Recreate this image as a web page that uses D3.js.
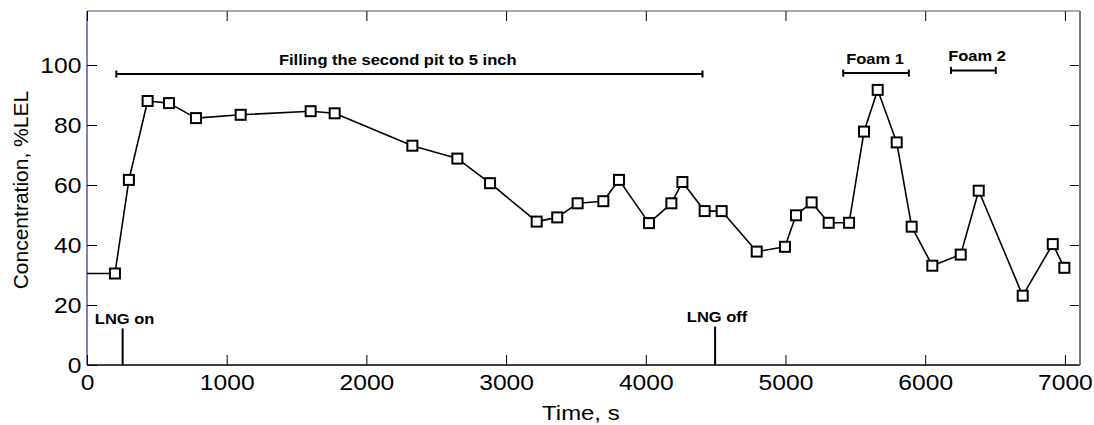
<!DOCTYPE html>
<html>
<head>
<meta charset="utf-8">
<script src="https://cdnjs.cloudflare.com/ajax/libs/d3/7.8.5/d3.min.js"></script>
<style>
  body { margin: 0; background: #fff; }
  text { font-family: "Liberation Sans", Arial, sans-serif; fill: #000; }
</style>
</head>
<body>
<svg id="chart"></svg>
<script>
// measured concentration vs time (first point has no marker)
const times = [0, 200, 300, 434, 587, 780, 1100, 1601, 1773, 2329, 2651, 2885, 3219, 3366,
  3512, 3696, 3808, 4023, 4183, 4262, 4421, 4543, 4794, 4996, 5075, 5187, 5309, 5455,
  5562, 5660, 5796, 5903, 6051, 6254, 6383, 6698, 6913, 6996];
const values = [30.5, 30.5, 61.7, 88, 87.3, 82.3, 83.4, 84.6, 83.9, 73.1, 68.8, 60.6, 47.8, 49.2,
  53.9, 54.6, 61.7, 47.3, 53.9, 61, 51.3, 51.3, 37.8, 39.4, 49.9, 54.2, 47.4, 47.4,
  77.8, 91.7, 74.2, 46.1, 33.1, 36.8, 58.1, 23.1, 40.3, 32.4];

// period bars
const spanLabels = ["Filling the second pit to 5 inch", "Foam 1", "Foam 2"];
const spanStart = [210, 5413, 6185];
const spanEnd = [4406, 5883, 6505];
const spanLevel = [97, 97.3, 98.2];
const spanLabelAt = [2224, 5641, 6371];

// event markers
const eventLabels = ["LNG on", "LNG off"];
const eventTimes = [255, 4496];
const eventHeight = [12.2, 12.8];

const xTicks = [0, 1000, 2000, 3000, 4000, 5000, 6000, 7000];
const yTicks = [0, 20, 40, 60, 80, 100];

const svgWidth = 1094, svgHeight = 425;
const margin = {top: 11, right: 14, bottom: 60, left: 87};
const width = svgWidth - margin.left - margin.right;
const height = svgHeight - margin.top - margin.bottom;
const stretch = 1.14; // the source picture is a bit wider than tall

const svg = d3.select("#chart")
  .attr("width", svgWidth)
  .attr("height", svgHeight);

const g = svg.append("g")
  .attr("transform", "translate(" + margin.left + "," + margin.top + ")");

const x = d3.scaleLinear().domain([0, 7108]).range([0, width]);
const y = d3.scaleLinear().domain([0, 118]).range([height, 0]);

// axes with inward ticks
const tickLen = 10;
const styleAxis = (sel) => {
  sel.selectAll("text")
    .style("font-size", "22px")
    .style("font-family", '"Liberation Sans", Arial, sans-serif')
    .attr("transform", "scale(1.12,1)");
  sel.select(".domain").remove();
  sel.selectAll("line").attr("stroke", "#000");
};

g.append("g")
  .attr("transform", "translate(0," + height + ")")
  .call(d3.axisBottom(x).tickValues(xTicks).tickFormat(d3.format("d"))
    .tickSizeInner(-tickLen).tickSizeOuter(0).tickPadding(9))
  .call(styleAxis);

g.append("g")
  .call(d3.axisLeft(y).tickValues(yTicks).tickFormat(d3.format("d"))
    .tickSizeInner(-tickLen).tickSizeOuter(0).tickPadding(5))
  .call(styleAxis)
  .selectAll("text").attr("dy", "0.36em");

g.append("g")
  .call(d3.axisTop(x).tickValues(xTicks).tickSizeInner(-tickLen).tickSizeOuter(0).tickFormat(""))
  .call(styleAxis);

g.append("g")
  .attr("transform", "translate(" + width + ",0)")
  .call(d3.axisRight(y).tickValues(yTicks.slice(1)).tickSizeInner(-tickLen).tickSizeOuter(0).tickFormat(""))
  .call(styleAxis);

// frame
g.append("line").attr("x1", 0).attr("x2", width).attr("y1", 0).attr("y2", 0)
  .attr("stroke", "#555").attr("stroke-width", 1.2);
g.append("line").attr("x1", 0).attr("x2", width).attr("y1", height).attr("y2", height)
  .attr("stroke", "#000").attr("stroke-width", 1.5);
g.append("line").attr("x1", 0).attr("x2", 0).attr("y1", 0).attr("y2", height)
  .attr("stroke", "#000080").attr("stroke-width", 1);
g.append("line").attr("x1", width).attr("x2", width).attr("y1", 0).attr("y2", height)
  .attr("stroke", "#777").attr("stroke-width", 2);

// axis titles
svg.append("text")
  .attr("transform", "translate(" + (margin.left + x(3535)) + ",420) scale(" + stretch + ",1)")
  .attr("text-anchor", "middle")
  .style("font-size", "21px")
  .text("Time, s");

svg.append("text")
  .attr("transform", "translate(28," + (margin.top + y(58.3)) + ") rotate(-90)")
  .attr("text-anchor", "middle")
  .style("font-size", "21px")
  .text("Concentration, %LEL");

// data line
const pts = times.map((t, i) => ({t: t, v: values[i]}));
const line = d3.line()
  .x(d => x(d.t))
  .y(d => y(d.v));

g.append("path")
  .datum(pts)
  .attr("fill", "none")
  .attr("stroke", "#000")
  .attr("stroke-width", 1.6)
  .attr("stroke-linejoin", "round")
  .attr("d", line);

const sq = 10;
g.selectAll(".dot")
  .data(pts.slice(1))
  .enter().append("rect")
  .attr("class", "dot")
  .attr("x", d => x(d.t) - sq / 2)
  .attr("y", d => y(d.v) - sq / 2)
  .attr("width", sq)
  .attr("height", sq)
  .attr("fill", "#fff")
  .attr("stroke", "#000")
  .attr("stroke-width", 2);

// period bars with caps
spanLabels.forEach((lab, i) => {
  const yy = y(spanLevel[i]);
  const x0 = x(spanStart[i]), x1 = x(spanEnd[i]);
  g.append("line").attr("x1", x0).attr("x2", x1).attr("y1", yy).attr("y2", yy)
    .attr("stroke", "#000").attr("stroke-width", 2);
  [x0, x1].forEach(xx => {
    g.append("line").attr("x1", xx).attr("x2", xx).attr("y1", yy - 3.5).attr("y2", yy + 3.5)
      .attr("stroke", "#000").attr("stroke-width", 2);
  });
  g.append("text")
    .attr("transform", "translate(" + x(spanLabelAt[i]) + "," + (yy - 9.5) + ") scale(" + stretch + ",1)")
    .attr("text-anchor", "middle")
    .style("font-size", "14.5px")
    .style("font-weight", "bold")
    .text(lab);
});

// event markers
eventLabels.forEach((lab, i) => {
  const xx = x(eventTimes[i]);
  g.append("line").attr("x1", xx).attr("x2", xx).attr("y1", y(0)).attr("y2", y(eventHeight[i]))
    .attr("stroke", "#000").attr("stroke-width", 2);
  g.append("text")
    .attr("transform", "translate(" + (xx + 2) + "," + (y(eventHeight[i]) - 4.5) + ") scale(" + stretch + ",1)")
    .attr("text-anchor", "middle")
    .style("font-size", "14.5px")
    .style("font-weight", "bold")
    .text(lab);
});
</script>
</body>
</html>
